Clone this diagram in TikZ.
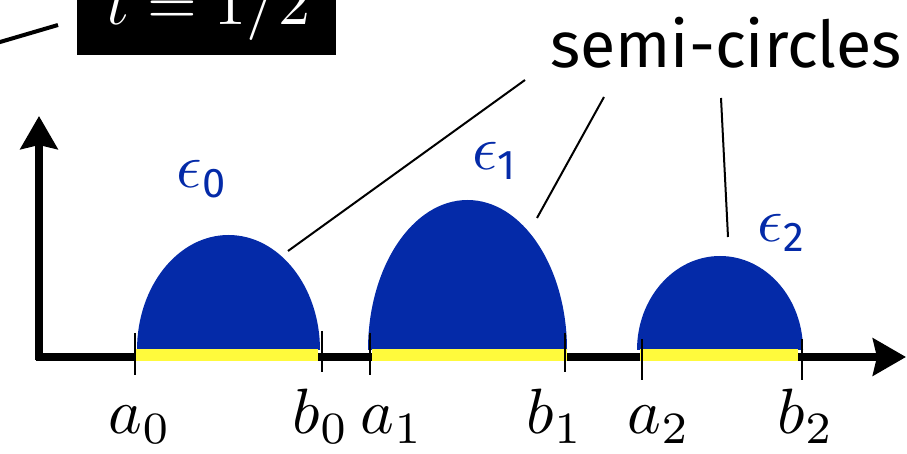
\documentclass[tikz,border=0pt]{standalone}
\usepackage{fontspec}
\newfontfamily\fira{Fira Sans}
\usetikzlibrary{arrows.meta}
\definecolor{semiblue}{RGB}{4,42,168}
\definecolor{baryellow}{RGB}{255,250,60}
\tikzset{
  axisline/.style={line width=7.5pt,-{Stealth[length=33pt,width=37pt,inset=4pt]}},
  semi/.style={fill=semiblue},
  ybar/.style={fill=baryellow},
  tickline/.style={line width=2.2pt},
  leader/.style={line width=2pt},
  ablabel/.style={scale=6.4,anchor=base,inner sep=0pt},
  epslabel/.style={scale=6.3,anchor=base,inner sep=0pt,text=semiblue},
}
\begin{document}
\begin{tikzpicture}[x=1pt,y=1pt]
\clip (0,0) rectangle (907,454);
\useasboundingbox (0,0) rectangle (907,454);
% axes
\coordinate (origin) at (39,97);
\coordinate (ytip) at (39,338);
\coordinate (xtip) at (906,97);
\draw[axisline] (39,93.5) -- (ytip);
\draw[axisline] (35.5,97) -- (xtip);
% semi-circles
\fill[semi] (137,104) arc[start angle=180,end angle=0,x radius=91.5,y radius=115];
\fill[semi] (368,104) arc[start angle=180,end angle=0,x radius=99.5,y radius=150];
\fill[semi] (637,104) arc[start angle=180,end angle=0,x radius=83,y radius=94];
% yellow intervals
\fill[ybar] (135,93) rectangle (318,105);
\fill[ybar] (372,93) rectangle (567,105);
\fill[ybar] (640,93) rectangle (798,105);
% ticks
\draw[tickline] (135,121) -- (135,79);
\draw[tickline] (322,123) -- (322,82);
\draw[tickline] (370,121) -- (370,79);
\draw[tickline] (565,121) -- (565,82);
\draw[tickline] (642,115) -- (642,74);
\draw[tickline] (802,115) -- (802,74);
% endpoint labels
\node[ablabel] (a0) at (140,20) {$a_0$};
\node[ablabel] (b0) at (321,20) {$b_0$};
\node[ablabel] (a1) at (392,20) {$a_1$};
\node[ablabel] (b1) at (555,20) {$b_1$};
\node[ablabel] (a2) at (659,20) {$a_2$};
\node[ablabel] (b2) at (806,20) {$b_2$};
% epsilon labels
\node[epslabel] (e0) at (201,266) {$\epsilon$\raisebox{-1.5pt}{\fira\fontsize{6.6}{8}\selectfont 0}};
\node[epslabel] (e1) at (494,284) {$\epsilon$\raisebox{-1.5pt}{\fira\fontsize{6.6}{8}\selectfont 1}};
\node[epslabel] (e2) at (781,212) {$\epsilon$\raisebox{-1.5pt}{\fira\fontsize{6.6}{8}\selectfont 2}};
% semi-circles callout
\node[anchor=base,inner sep=0pt] (semis) at (726,386) {\fira\fontsize{64.5}{70}\selectfont semi-circles};
\coordinate (s0) at (525,374);
\coordinate (s1) at (604,357);
\coordinate (s2) at (721,356);
\coordinate (c0) at (288,203);
\coordinate (c1) at (537,236);
\coordinate (c2) at (728,217);
\draw[leader] (s0) -- (c0);
\draw[leader] (s1) -- (c1);
\draw[leader] (s2) -- (c2);
% top-left box
\node[fill=black,anchor=south west,minimum width=259pt,minimum height=120pt,inner sep=0pt] (tbox) at (77,399) {};
\node[scale=6.4,anchor=base,inner sep=0pt,text=white] (tlabel) at (208.5,429) {$t=1/2$};
\coordinate (tl0) at (-5,410.5);
\coordinate (tl1) at (58,429);
\draw[line width=4pt] (tl0) -- (tl1);
\end{tikzpicture}
\end{document}
